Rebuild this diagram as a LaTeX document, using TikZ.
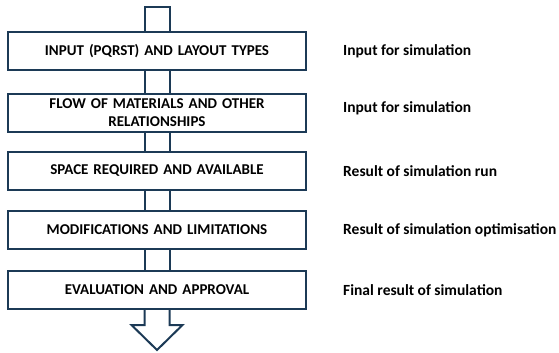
\documentclass[tikz,border=0pt]{standalone}
\usepackage{fontspec}
\setmainfont{Carlito}
\usetikzlibrary{calc}
\definecolor{navy}{RGB}{28,58,86}
\begin{document}
\begin{tikzpicture}[x=1pt,y=-1pt,
  stage/.style={draw=navy,line width=2pt,fill=white,minimum width=298pt,minimum height=38pt,
    inner sep=0pt,align=center,font=\bfseries\fontsize{15}{18}\selectfont,text width=296pt},
  note/.style={anchor=west,font=\bfseries\fontsize{15.5}{18}\selectfont,inner sep=0pt},
  shaft/.style={draw=navy,line width=2pt}]
\useasboundingbox (0,0) rectangle (559,353);
\node[stage] (b1) at (157,51) {INPUT (PQRST) AND LAYOUT TYPES};
\node[stage] (b2) at (157,112.5) {FLOW OF MATERIALS AND OTHER\\RELATIONSHIPS};
\node[stage] (b3) at (157,171) {SPACE REQUIRED AND AVAILABLE};
\node[stage] (b4) at (157,230) {MODIFICATIONS AND LIMITATIONS};
\node[stage] (b5) at (157,289.5) {EVALUATION AND APPROVAL};
\coordinate (top) at (157,7);
\coordinate (tip) at (157,350);
% top entry
\draw[shaft] ($(b1.north)+(-12.5,0)$) -- ($(top)+(-12.5,0)$) -- ($(top)+(12.5,0)$) -- ($(b1.north)+(12.5,0)$);
% shafts between boxes
\foreach \a/\b in {b1/b2,b2/b3,b3/b4,b4/b5}{
  \draw[shaft] ($(\a.south)+(-12.5,0)$) -- ($(\b.north)+(-12.5,0)$);
  \draw[shaft] ($(\a.south)+(12.5,0)$) -- ($(\b.north)+(12.5,0)$);
}
% exit arrow
\draw[shaft,line join=miter] ($(b5.south)+(-12.5,0)$) -- ($(tip)+(-12.5,-25)$) -- ($(tip)+(-25.5,-25)$) -- (tip)
  -- ($(tip)+(25.5,-25)$) -- ($(tip)+(12.5,-25)$) -- ($(b5.south)+(12.5,0)$);
\node[note] (n1) at (343,51) {Input for simulation};
\node[note] (n2) at (343,108) {Input for simulation};
\node[note] (n3) at (343,171) {Result of simulation run};
\node[note] (n4) at (343,230) {Result of simulation optimisation};
\node[note] (n5) at (343,290) {Final result of simulation};
\end{tikzpicture}
\end{document}
